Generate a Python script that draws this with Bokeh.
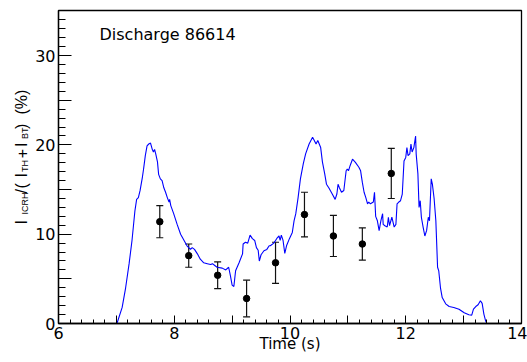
from math import pi
from bokeh.plotting import figure
from bokeh.layouts import row
from bokeh.models import ColumnDataSource, FixedTicker, Label, Whisker, TeeHead, Range1d
from bokeh.embed import file_html
from bokeh.resources import INLINE

# ---------------- data ----------------
trace_time = [6.81, 7.01, 7.10, 7.16, 7.22, 7.27, 7.32, 7.35, 7.38, 7.41, 7.45, 7.47, 7.50, 7.53,
              7.56, 7.59, 7.62, 7.64, 7.66, 7.68, 7.71, 7.73, 7.76, 7.79, 7.82, 7.85, 7.88, 7.91,
              7.92, 7.94, 7.99, 8.05, 8.11, 8.17, 8.22, 8.28, 8.31, 8.35, 8.40, 8.45, 8.51, 8.57,
              8.63, 8.66, 8.70, 8.74, 8.83, 8.89, 8.94, 8.97, 9.00, 9.03, 9.06, 9.12, 9.18, 9.19,
              9.23, 9.27, 9.31, 9.35, 9.39, 9.42, 9.45, 9.47, 9.50, 9.55, 9.60, 9.64, 9.66, 9.72,
              9.75, 9.78, 9.81, 9.83, 9.85, 9.88, 9.91, 9.94, 9.99, 10.04, 10.07, 10.10, 10.14,
              10.18, 10.23, 10.27, 10.33, 10.39, 10.42, 10.45, 10.48, 10.53, 10.56, 10.60, 10.63,
              10.67, 10.73, 10.78, 10.81, 10.83, 10.85, 10.89, 10.93, 10.97, 10.99, 11.01, 11.04,
              11.08, 11.13, 11.19, 11.22, 11.25, 11.28, 11.31, 11.34, 11.36, 11.39, 11.44, 11.46,
              11.48, 11.51, 11.54, 11.57, 11.60, 11.61, 11.64, 11.68, 11.70, 11.72, 11.76, 11.80,
              11.83, 11.85, 11.88, 11.91, 11.94, 11.97, 12.00, 12.02, 12.04, 12.07, 12.09, 12.11,
              12.14, 12.17, 12.18, 12.21, 12.23, 12.25, 12.27, 12.30, 12.33, 12.36, 12.39, 12.41,
              12.44, 12.46, 12.49, 12.52, 12.55, 12.57, 12.60, 12.63, 12.69, 12.75, 12.83, 12.92,
              13.01, 13.09, 13.14, 13.17, 13.21, 13.25, 13.29, 13.32, 13.35, 13.38, 13.40, 13.80]
trace_ratio = [0.0, 0.0, 1.8, 4.0, 6.7, 9.3, 12.6, 13.9, 14.1, 14.9, 16.4, 17.3, 18.8, 19.9,
               20.1, 20.2, 19.5, 19.2, 19.5, 19.0, 18.1, 16.7, 16.2, 16.0, 15.2, 14.7, 14.1, 13.6,
               13.9, 13.2, 12.3, 11.1, 10.0, 9.3, 8.7, 8.3, 8.5, 8.3, 7.8, 7.2, 6.8, 6.7,
               6.6, 6.7, 6.5, 6.3, 6.2, 6.0, 6.3, 5.35, 4.3, 4.15, 5.9, 6.8, 7.8, 8.9,
               9.1, 9.0, 9.9, 9.5, 9.3, 8.5, 8.2, 7.0, 7.7, 8.15, 8.3, 8.7, 8.7, 9.0,
               9.3, 9.6, 9.8, 9.3, 9.9, 9.3, 7.85, 8.7, 9.5, 10.2, 11.5, 12.3, 14.1,
               16.2, 17.9, 19.0, 20.1, 20.85, 20.5, 20.1, 20.5, 19.7, 18.1, 16.75, 15.6,
               15.2, 14.5, 13.9, 14.5, 15.6, 15.25, 14.7, 14.9, 17.1, 17.3, 17.1, 17.7,
               18.4, 18.05, 17.5, 17.1, 15.8, 14.7, 14.1, 13.4, 13.6, 13.4, 13.6, 14.7,
               12.0, 11.5, 10.4, 11.5, 12.3, 11.1, 10.95, 10.8, 11.9, 10.95, 11.9, 10.8,
               11.1, 13.4, 13.6, 13.75, 14.5, 18.2, 18.6, 19.7, 18.8, 19.0, 20.1, 19.2,
               19.7, 21.0, 19.0, 16.75, 13.0, 13.75, 11.9, 10.8, 9.8, 10.4, 11.9, 11.5,
               16.2, 15.6, 14.0, 11.5, 6.3, 5.9, 4.0, 2.9, 2.2, 1.9, 1.8, 1.6,
               1.2, 0.98, 0.94, 1.6, 1.9, 2.1, 2.55, 2.25, 1.05, 0.3, 0.0, 0.0]

point_time = [7.75, 8.25, 8.75, 9.25, 9.75, 10.25, 10.75, 11.25, 11.75]
point_ratio = [11.4, 7.6, 5.4, 2.8, 6.8, 12.2, 9.8, 8.9, 16.8]
point_err = [1.8, 1.3, 1.5, 2.05, 2.3, 2.5, 2.3, 1.8, 2.8]

x_major = [6, 7, 8, 9, 10, 11, 12, 13, 14]
x_labels = {6: "6", 7: "", 8: "8", 9: "", 10: "10", 11: "", 12: "12", 13: "", 14: "14"}
y_major = [0, 5, 10, 15, 20, 25, 30, 35]
y_labels = {0: "0", 5: "", 10: "10", 15: "", 20: "20", 25: "", 30: "30", 35: ""}

title_text = "Discharge 86614"
x_title = "Time (s)"
# y title I_ICRH/(I_TH+I_BT) (%) as (text, is_subscript) pieces
y_title_parts = [("I", False), ("ICRH", True), ("/", False), ("(", False), ("I", False),
                 ("TH", True), ("+", False), ("I", False), ("BT", True), (")", False),
                 ("(%)", False)]

# ---------------- layout constants ----------------
W, H = 527, 362
TW = 32                      # width of the strip that holds the y title
FL, FR, FT, FB = 58, 521, 10, 323   # frame edges in page pixels
X0, X1, Y0, Y1 = 6, 14, 0, 35.05


def dx(px):
    return X0 + (px - FL) * (X1 - X0) / (FR - FL)


def dy(py):
    return Y0 + (FB - py) * (Y1 - Y0) / (FB - FT)


# ---------------- main figure ----------------
p = figure(width=W - TW, height=H, x_range=Range1d(X0, X1), y_range=Range1d(Y0, Y1),
           output_backend="svg", toolbar_location=None,
           min_border_left=FL - TW, min_border_right=W - FR, min_border_top=FT,
           min_border_bottom=H - FB)
p.xgrid.visible = False
p.ygrid.visible = False
p.background_fill_color = "white"
p.border_fill_color = "white"
p.outline_line_color = "black"
p.outline_line_width = 1.3

x_minor = [round(X0 + 0.2 * i, 2) for i in range(int((X1 - X0) / 0.2) + 1)]
y_minor = list(range(0, 36))

xa = p.xaxis[0]
xa.ticker = FixedTicker(ticks=x_major, minor_ticks=x_minor)
xa.major_label_overrides = x_labels
xa.major_tick_in = 8
xa.major_tick_out = 0
xa.minor_tick_in = 4
xa.minor_tick_out = 0
xa.major_label_standoff = 3
xa.major_label_text_font = "DejaVu Sans"
xa.major_label_text_font_size = "16px"
xa.major_label_text_color = "black"
xa.axis_label = x_title
xa.axis_label_standoff = -7
xa.axis_label_text_font = "DejaVu Sans"
xa.axis_label_text_font_size = "15px"
xa.axis_label_text_font_style = "normal"
xa.axis_label_text_color = "black"
xa.axis_line_color = "black"
xa.axis_line_width = 1.3
xa.major_tick_line_color = "black"
xa.minor_tick_line_color = "black"

ya = p.yaxis[0]
ya.ticker = FixedTicker(ticks=y_major, minor_ticks=y_minor)
ya.major_label_overrides = y_labels
ya.major_tick_in = 13
ya.major_tick_out = 0
ya.minor_tick_in = 7
ya.minor_tick_out = 0
ya.major_label_standoff = 3
ya.major_label_text_font = "DejaVu Sans"
ya.major_label_text_font_size = "16px"
ya.major_label_text_color = "black"
ya.axis_line_color = "black"
ya.axis_line_width = 1.3
ya.major_tick_line_color = "black"
ya.minor_tick_line_color = "black"

# trace
p.line(trace_time, trace_ratio, line_color="#0000ff", line_width=1.1)

# points with error bars
src = ColumnDataSource(dict(
    t=point_time, r=point_ratio,
    lo=[v - e for v, e in zip(point_ratio, point_err)],
    hi=[v + e for v, e in zip(point_ratio, point_err)],
))
p.add_layout(Whisker(source=src, base="t", lower="lo", upper="hi",
                     line_color="#111111", line_width=1.2,
                     lower_head=TeeHead(size=7, line_color="#111111", line_width=1.2),
                     upper_head=TeeHead(size=7, line_color="#111111", line_width=1.2)))
p.scatter("t", "r", source=src, size=6.5, color="black")

p.add_layout(Label(x=dx(99), y=dy(34), text=title_text, text_font="DejaVu Sans",
                   text_font_size="16px", text_color="black", text_baseline="alphabetic"))

# ---------------- y-title strip ----------------
# the row aligns this strip's frame with the main frame (page y FT..FB),
# so its y range is chosen so that data y = H - page_y
t = figure(width=TW, height=H, x_range=Range1d(0, TW), y_range=Range1d(H - FB, H - FT),
           output_backend="svg", toolbar_location=None,
           x_axis_location=None, y_axis_location=None, min_border=0)
t.xgrid.visible = False
t.ygrid.visible = False
t.outline_line_color = None
t.background_fill_color = "white"
t.border_fill_color = "white"

# start position (page y) of each piece, reading bottom to top; centre line x
piece_start = [224, 214, 193, 188, 177, 171.5, 157.7, 146.5, 138.5, 128.5, 114]
for (txt, sub), py in zip(y_title_parts, piece_start):
    t.add_layout(Label(x=24.0 if sub else 21.0, y=H - py, text=txt, angle=pi / 2,
                       text_font="Liberation Sans", text_font_size="9px" if sub else "16px",
                       text_color="black", text_align="left", text_baseline="middle"))

layout = row(t, p, spacing=0)
open("out.html", "w").write(file_html(layout, INLINE))
